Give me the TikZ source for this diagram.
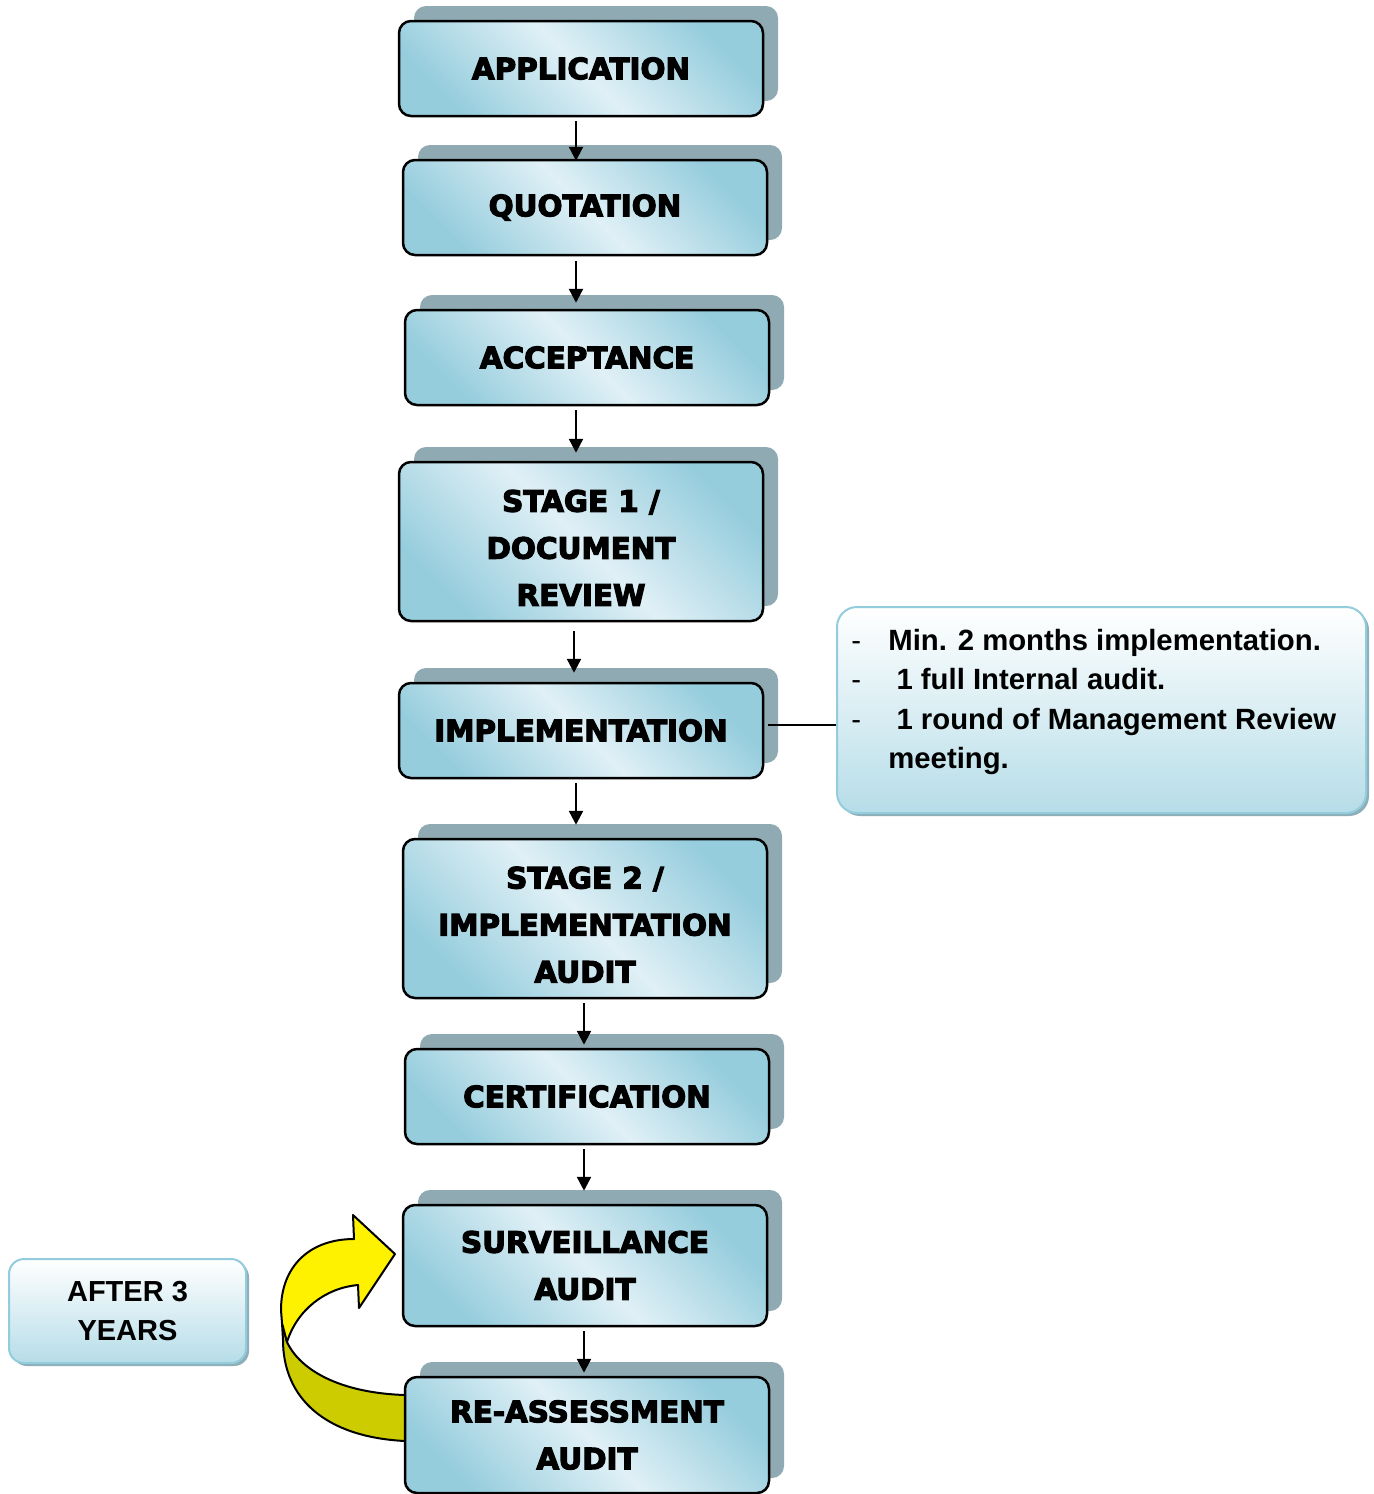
\documentclass[tikz,border=0pt]{standalone}
\usepackage{fontspec}
\newfontfamily\boxfont{DejaVu Sans Bold}[FakeBold=4]
\newfontfamily\notefont{Liberation Sans}
\usetikzlibrary{shadows,arrows.meta,calc}
\definecolor{shadowc}{RGB}{143,170,178}
\definecolor{boxdark}{RGB}{150,205,221}
\definecolor{boxlight}{RGB}{224,240,246}
\definecolor{noteborder}{RGB}{147,205,221}
\definecolor{notebottom}{RGB}{182,221,232}
\definecolor{noteshadow}{RGB}{142,174,184}
\definecolor{olivey}{RGB}{204,204,0}
\tikzset{
  stepbox/.style={draw=black, line width=1.25pt, rounded corners=6pt,
    minimum width=182pt, inner sep=0pt, align=center,
    left color=boxdark, right color=boxdark, middle color=boxlight, shading angle=135,
    drop shadow={shadow xshift=7.5pt, shadow yshift=7.5pt, opacity=1, fill=shadowc, draw=none},
    font=\boxfont\fontsize{14.7}{23.5}\selectfont},
  notebox/.style={draw=noteborder, line width=1pt, inner sep=0pt, align=center,
    top color=white, bottom color=notebottom,
    drop shadow={shadow xshift=1.5pt, shadow yshift=-1.5pt, opacity=1, fill=noteshadow, draw=none},
    font=\notefont\bfseries\fontsize{14.5}{19.2}\selectfont},
  arr/.style={-{Triangle[width=7pt,length=7pt]}, line width=1.2pt},
  ribbon/.style={draw=black, line width=1pt, line join=round}
}
\newcommand{\topstrut}{\rule{0pt}{17.2pt}}
\begin{document}
\begin{tikzpicture}[x=0.5pt,y=-0.5pt]
\useasboundingbox (0,0) rectangle (1373,1494);
\fill[white] (0,0) rectangle (1373,1494);

% curved yellow arrow (shape)
\draw[ribbon, fill=olivey] (282,1323) -- (283,1340) .. controls (283,1398) and (325,1437) .. (405,1441)
  -- (405,1395) .. controls (340,1393) and (300,1370) .. (287,1342) -- cycle;
\draw[ribbon, fill=yellow] (287,1342) .. controls (297,1310) and (325,1288) .. (358,1285)
  -- (359,1308) -- (395,1254) -- (353,1215) -- (354,1239)
  .. controls (310,1239) and (281,1266) .. (281,1310) -- (282,1323) -- cycle;

% process boxes
\node[stepbox, minimum height=47.5pt] (app)  at (581,68.5)  {APPLICATION};
\node[stepbox, minimum height=47.5pt] (quo)  at (585,207.5) {QUOTATION};
\node[stepbox, minimum height=47.5pt] (acc)  at (587,357.5) {ACCEPTANCE};
\node[stepbox, minimum height=79.5pt] (st1)  at (581,541.5) {\topstrut STAGE 1 /\\DOCUMENT\\REVIEW};
\node[stepbox, minimum height=47.5pt] (imp)  at (581,730.5) {IMPLEMENTATION};
\node[stepbox, minimum height=79.5pt] (st2)  at (585,918.5) {\topstrut STAGE 2 /\\IMPLEMENTATION\\AUDIT};
\node[stepbox, minimum height=47.5pt] (cert) at (587,1096.5) {CERTIFICATION};
\node[stepbox, minimum height=60.5pt] (surv) at (585,1265.5) {SURVEILLANCE\\AUDIT};
\node[stepbox, minimum height=58pt]   (reas) at (587,1435)  {RE-ASSESSMENT\\AUDIT};

% note boxes
\node[notebox, rounded corners=10pt, minimum width=264.5pt, minimum height=103pt, anchor=north west]
  (note) at (836,606) {};
\node[anchor=north west, inner sep=0pt, align=left,
  font=\notefont\bfseries\fontsize{14.65}{19.6}\selectfont] (notetext) at (851,629)
  {\makebox[18.5pt][l]{\mdseries -}Min. 2 months implementation.\\
   \makebox[18.5pt][l]{\mdseries -} 1 full Internal audit.\\
   \makebox[18.5pt][l]{\mdseries -} 1 round of Management Review\\
   \hspace*{18.5pt}meeting.};
\node[notebox, rounded corners=7.5pt, minimum width=118.5pt, minimum height=52pt]
  (after) at (127.5,1311) {AFTER 3\\YEARS};

% connectors
\coordinate (cA) at (576,0);
\coordinate (cB) at (574,0);
\coordinate (cC) at (584,0);
\draw[arr] ($(app.south -| cA)+(0,4)$)  -- ($(quo.north -| cA)+(0,2)$);
\draw[arr] ($(quo.south -| cA)+(0,5)$)  -- ($(acc.north -| cA)+(0,-6)$);
\draw[arr] ($(acc.south -| cA)+(0,4)$)  -- ($(st1.north -| cA)+(0,-8)$);
\draw[arr] ($(st1.south -| cB)+(0,9)$)  -- ($(imp.north -| cB)+(0,-9)$);
\draw[arr] ($(imp.south -| cA)+(0,4)$)  -- ($(st2.north -| cA)+(0,-13)$);
\draw[arr] ($(st2.south -| cC)+(0,4)$)  -- ($(cert.north -| cC)+(0,-3)$);
\draw[arr] ($(cert.south -| cC)+(0,4)$) -- ($(surv.north -| cC)+(0,-13)$);
\draw[arr] ($(surv.south -| cC)+(0,4)$) -- ($(reas.north -| cC)+(0,-3)$);
\draw[line width=0.7pt] ($(imp.east)+(4,-5.5)$) -- ($(imp.east -| note.west)+(0,-5.5)$);
\end{tikzpicture}
\end{document}
